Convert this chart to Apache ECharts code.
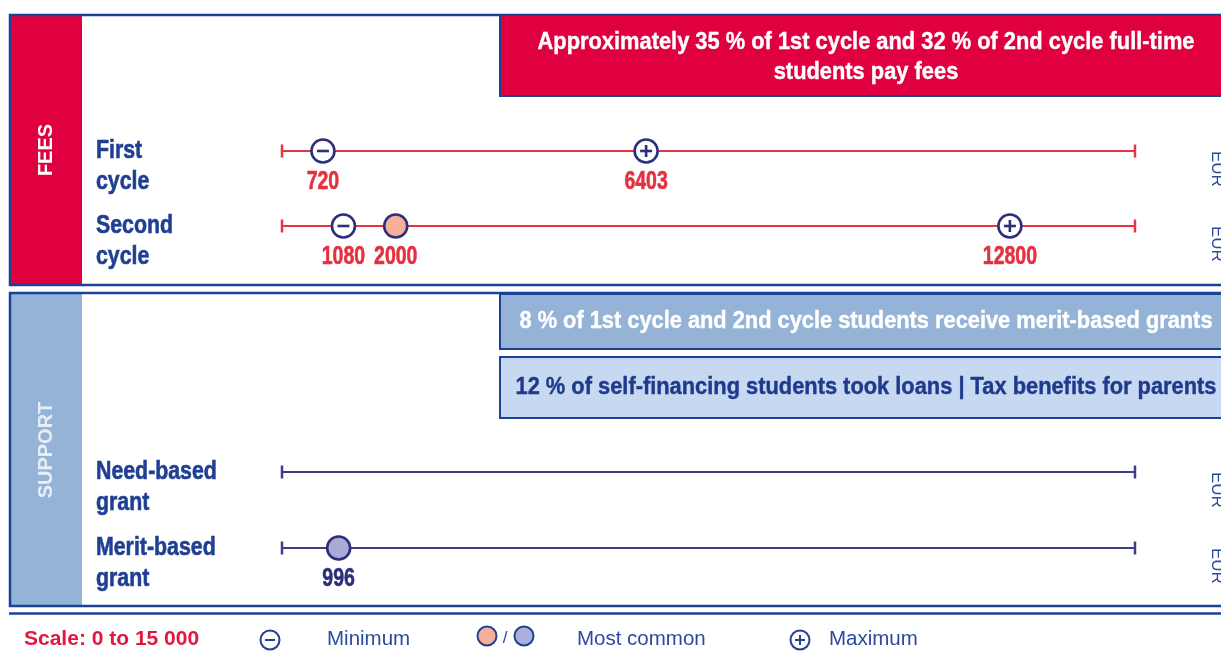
<!DOCTYPE html>
<html>
<head>
<meta charset="utf-8">
<script src="https://cdn.jsdelivr.net/npm/echarts@6/dist/echarts.min.js"></script>
<style>
html,body{margin:0;padding:0;background:#fff;}
#chart{width:1221px;height:655px;}
</style>
</head>
<body>
<div id="chart"></div>
<script>
// ---------- data ----------
const feeRows = ['First cycle', 'Second cycle'];
const feeMin = [720, 1080];
const feeMode = [null, 2000];
const feeMax = [6403, 12800];

const supportRows = ['Need-based grant', 'Merit-based grant'];
const supportMin = [null, null];
const supportMode = [null, 996];
const supportMax = [null, null];

const scaleRange = [0, 15000];
const unitLabel = 'EUR';
const sectionTitles = ['FEES', 'SUPPORT'];
const feeBannerLines = ['Approximately 35 % of 1st cycle and 32 % of 2nd cycle full-time', 'students pay fees'];
const supportBanners = ['8 % of 1st cycle and 2nd cycle students receive merit-based grants',
                        '12 % of self-financing students took loans | Tax benefits for parents'];
const legendTexts = ['Scale: 0 to 15 000', 'Minimum', '/', 'Most common', 'Maximum'];

// ---------- styles ----------
const NAVY = '#1d4196';
const RED = '#e1003f';
const LINE_RED = '#e8343e';
const LABEL_RED = '#e5303f';
const MARK_NAVY = '#2d2f7c';
const SUPPORT_LINE = '#3d3d8a';
const LABEL_BLUE = '#1f3f93';
const SANS = '"Liberation Sans",Arial,sans-serif';
const NARROW_X = 0.82;

const measureCtx = document.createElement('canvas').getContext('2d');
function fitScale(text, font, target) {
  measureCtx.font = font;
  return target / measureCtx.measureText(text).width;
}

function points(values) {
  const out = [];
  values.forEach((v, i) => { if (v != null) out.push([v, i]); });
  return out;
}

function markerRender(kind, fill, labelColor) {
  return function (params, api) {
    const p = api.coord([api.value(0), api.value(1)]);
    const ch = [{
      type: 'circle', shape: {cx: p[0], cy: p[1], r: 11.5},
      style: {fill: fill, stroke: MARK_NAVY, lineWidth: 2.6}
    }];
    if (kind === 'min' || kind === 'max') {
      ch.push({type: 'line', shape: {x1: p[0] - 6, y1: p[1], x2: p[0] + 6, y2: p[1]},
               style: {stroke: MARK_NAVY, lineWidth: 2.6}});
    }
    if (kind === 'max') {
      ch.push({type: 'line', shape: {x1: p[0], y1: p[1] - 6, x2: p[0], y2: p[1] + 6},
               style: {stroke: MARK_NAVY, lineWidth: 2.6}});
    }
    ch.push({type: 'text', x: p[0], y: p[1] + 31, scaleX: 0.78,
             style: {text: String(api.value(0)), x: 0, y: 0,
             align: 'center', verticalAlign: 'middle', fill: labelColor,
             stroke: labelColor, lineWidth: 0.6,
             font: 'bold 25px ' + SANS}});
    return {type: 'group', children: ch};
  };
}

function rowLabels(rows, gridIdx) {
  return {
    type: 'custom', xAxisIndex: gridIdx, yAxisIndex: gridIdx * 2,
    data: rows.map((r, i) => [scaleRange[0], i]),
    silent: true, z: 5,
    renderItem: function (params, api) {
      const p = api.coord([api.value(0), api.value(1)]);
      const name = rows[params.dataIndex];
      const k = name.lastIndexOf(' ');
      return {type: 'text', x: p[0] - 186, y: p[1] - 16, scaleX: NARROW_X,
        style: {text: name.slice(0, k) + '\n' + name.slice(k + 1), x: 0, y: 0,
          align: 'left', verticalAlign: 'top', lineHeight: 31,
          fill: LABEL_BLUE, stroke: LABEL_BLUE, lineWidth: 0.6,
          font: 'bold 26px ' + SANS}};
    }
  };
}

function rowLines(rows, gridIdx, color) {
  return rows.map((r, i) => ({
    type: 'line', xAxisIndex: gridIdx, yAxisIndex: gridIdx * 2,
    data: [[scaleRange[0], i], [scaleRange[1], i]],
    symbol: 'rect', symbolSize: [2.5, 13], showSymbol: true,
    itemStyle: {color: color}, lineStyle: {color: color, width: 2.2},
    silent: true, z: 2
  }));
}

function markers(values, kind, gridIdx, fill, labelColor) {
  return {
    type: 'custom', xAxisIndex: gridIdx, yAxisIndex: gridIdx * 2,
    data: points(values), renderItem: markerRender(kind, fill, labelColor),
    silent: true, z: 5
  };
}

function catAxis(rows, gridIdx) {
  return [{
    type: 'category', gridIndex: gridIdx, data: rows, inverse: true,
    axisLine: {show: false}, axisTick: {show: false}, splitLine: {show: false},
    axisLabel: {show: false}
  }, {
    type: 'category', gridIndex: gridIdx, data: rows, inverse: true, position: 'right',
    axisLine: {show: false}, axisTick: {show: false}, splitLine: {show: false},
    axisLabel: {
      interval: 0, margin: 82, rotate: -90, align: 'left', verticalAlign: 'middle',
      color: '#2a4a9c', fontSize: 17, fontFamily: SANS, formatter: () => unitLabel
    }
  }];
}

function valAxis(gridIdx) {
  return {
    type: 'value', gridIndex: gridIdx, min: scaleRange[0], max: scaleRange[1],
    show: false, splitLine: {show: false}
  };
}

// ---------- decoration ----------
function legendIcon(cx, cy, kind, fill) {
  const ch = [{type: 'circle', shape: {cx: cx, cy: cy, r: 9.5},
               style: {fill: fill || '#fff', stroke: '#23418f', lineWidth: 2}}];
  if (kind !== 'mode') ch.push({type: 'line', shape: {x1: cx - 5, y1: cy, x2: cx + 5, y2: cy},
                                 style: {stroke: '#23418f', lineWidth: 2}});
  if (kind === 'max') ch.push({type: 'line', shape: {x1: cx, y1: cy - 5, x2: cx, y2: cy + 5},
                                style: {stroke: '#23418f', lineWidth: 2}});
  return {type: 'group', children: ch};
}

const BANNER_FONT_TOP = 'bold 24px ' + SANS;
const BANNER_FONT = 'bold 23px ' + SANS;
const sTop = fitScale(feeBannerLines[0], BANNER_FONT_TOP, 657);
const s1 = fitScale(supportBanners[0], BANNER_FONT, 693);
const s2 = fitScale(supportBanners[1], BANNER_FONT, 701);

const graphic = [
  // FEES panel
  {type: 'rect', shape: {x: 10, y: 15, width: 1240, height: 270}, style: {fill: '#fff'}},
  {type: 'rect', shape: {x: 10, y: 15, width: 72, height: 270}, style: {fill: RED}},
  {type: 'rect', shape: {x: 10, y: 15, width: 1240, height: 270}, style: {fill: null, stroke: NAVY, lineWidth: 2.5}},
  {type: 'rect', shape: {x: 500, y: 15, width: 740, height: 81}, style: {fill: RED, stroke: NAVY, lineWidth: 2}},
  {type: 'text', x: 866, y: 57, scaleX: sTop, style: {text: feeBannerLines.join('\n'), x: 0, y: 0,
    align: 'center', verticalAlign: 'middle', fill: '#fff', stroke: '#fff', lineWidth: 0.4,
    font: BANNER_FONT_TOP, lineHeight: 30}},
  {type: 'text', x: 46, y: 150, rotation: Math.PI / 2, style: {text: sectionTitles[0], align: 'center',
    verticalAlign: 'middle', fill: '#fff', font: 'bold 20px ' + SANS}},
  // SUPPORT panel
  {type: 'rect', shape: {x: 10, y: 293, width: 1240, height: 313}, style: {fill: '#fff'}},
  {type: 'rect', shape: {x: 10, y: 293, width: 72, height: 313}, style: {fill: '#95b3d7'}},
  {type: 'rect', shape: {x: 10, y: 293, width: 1240, height: 313}, style: {fill: null, stroke: NAVY, lineWidth: 2.5}},
  {type: 'rect', shape: {x: 500, y: 294, width: 740, height: 55}, style: {fill: '#95b3d7', stroke: NAVY, lineWidth: 2}},
  {type: 'text', x: 866, y: 322, scaleX: s1, style: {text: supportBanners[0], x: 0, y: 0,
    align: 'center', verticalAlign: 'middle', fill: '#fff', stroke: '#fff', lineWidth: 0.4, font: BANNER_FONT}},
  {type: 'rect', shape: {x: 500, y: 357, width: 740, height: 61}, style: {fill: '#c6d9f0', stroke: NAVY, lineWidth: 2}},
  {type: 'text', x: 866, y: 388, scaleX: s2, style: {text: supportBanners[1], x: 0, y: 0,
    align: 'center', verticalAlign: 'middle', fill: '#1f3a8c', stroke: '#1f3a8c', lineWidth: 0.4, font: BANNER_FONT}},
  {type: 'text', x: 46, y: 450, rotation: Math.PI / 2, style: {text: sectionTitles[1], align: 'center',
    verticalAlign: 'middle', fill: '#e8eef7', font: 'bold 20px ' + SANS}},
  // bottom rule
  {type: 'line', shape: {x1: 9, y1: 613.5, x2: 1230, y2: 613.5}, style: {stroke: NAVY, lineWidth: 2.5}},
  // legend
  {type: 'text', x: 24, y: 639, style: {text: legendTexts[0], align: 'left', verticalAlign: 'middle',
    fill: '#e3163f', font: 'bold 21px ' + SANS}},
  legendIcon(270, 640, 'min'),
  {type: 'text', x: 327, y: 639, style: {text: legendTexts[1], align: 'left', verticalAlign: 'middle',
    fill: '#2b4aa0', font: '20.5px ' + SANS}},
  legendIcon(487, 636, 'mode', '#f4b09b'),
  {type: 'text', x: 505, y: 638, style: {text: legendTexts[2], align: 'center', verticalAlign: 'middle',
    fill: '#2b4aa0', font: '17px ' + SANS}},
  legendIcon(524, 636, 'mode', '#aab0dc'),
  {type: 'text', x: 577, y: 639, style: {text: legendTexts[3], align: 'left', verticalAlign: 'middle',
    fill: '#2b4aa0', font: '20.5px ' + SANS}},
  legendIcon(800, 640, 'max'),
  {type: 'text', x: 829, y: 639, style: {text: legendTexts[4], align: 'left', verticalAlign: 'middle',
    fill: '#2b4aa0', font: '20.5px ' + SANS}}
];

const chart = echarts.init(document.getElementById('chart'), null, {renderer: 'canvas'});
chart.setOption({
  animation: false,
  backgroundColor: '#fff',
  graphic: graphic,
  grid: [
    {left: 282, right: 86, top: 113.5, height: 150, containLabel: false, outerBoundsMode: 'none'},
    {left: 282, right: 86, top: 434, height: 152, containLabel: false, outerBoundsMode: 'none'}
  ],
  xAxis: [valAxis(0), valAxis(1)],
  yAxis: [...catAxis(feeRows, 0), ...catAxis(supportRows, 1)],
  series: [
    ...rowLines(feeRows, 0, LINE_RED),
    ...rowLines(supportRows, 1, SUPPORT_LINE),
    rowLabels(feeRows, 0),
    rowLabels(supportRows, 1),
    markers(feeMin, 'min', 0, '#fff', LABEL_RED),
    markers(feeMode, 'mode', 0, '#f4b09b', LABEL_RED),
    markers(feeMax, 'max', 0, '#fff', LABEL_RED),
    markers(supportMin, 'min', 1, '#fff', MARK_NAVY),
    markers(supportMode, 'mode', 1, '#aaaad6', MARK_NAVY),
    markers(supportMax, 'max', 1, '#fff', MARK_NAVY)
  ]
});
</script>
</body>
</html>
